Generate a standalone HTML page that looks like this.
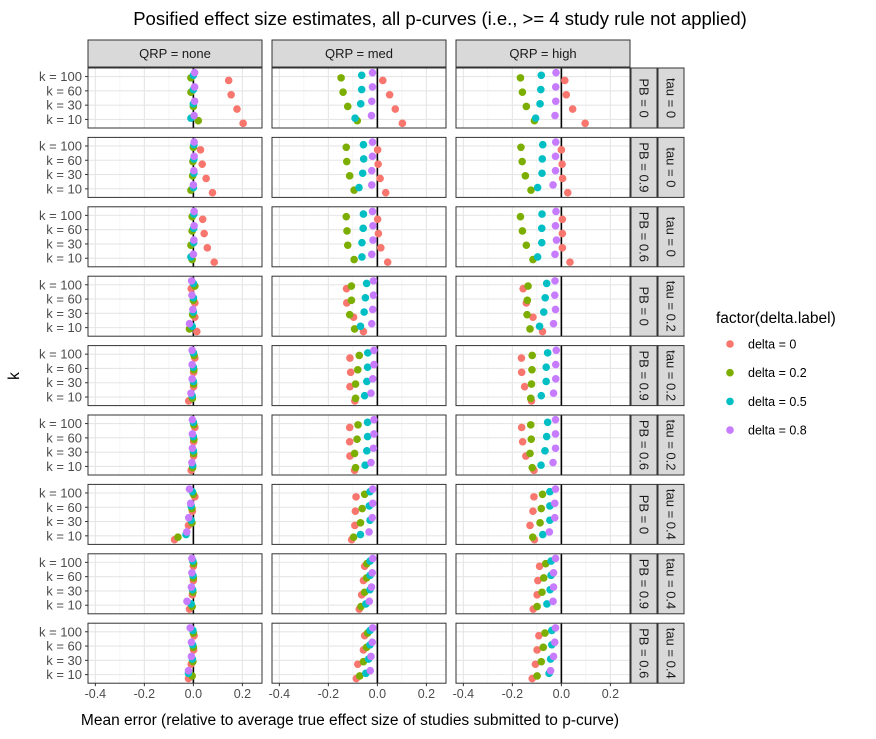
<!DOCTYPE html>
<html><head><meta charset="utf-8"><style>
html,body{margin:0;padding:0;background:#fff;}
svg{display:block;font-family:"Liberation Sans",Arial,sans-serif;}
</style></head><body>
<svg id="chart" width="876" height="739" viewBox="0 0 876 739"></svg>
<script>
const colLabels = ["QRP = none","QRP = med","QRP = high"];
const pbLabels = ["PB = 0","PB = 0.9","PB = 0.6","PB = 0","PB = 0.9","PB = 0.6","PB = 0","PB = 0.9","PB = 0.6"];
const tauLabels = ["tau = 0","tau = 0","tau = 0","tau = 0.2","tau = 0.2","tau = 0.2","tau = 0.4","tau = 0.4","tau = 0.4"];
const kLabels = ["k = 100","k = 60","k = 30","k = 10"];
const deltaLabels = ["delta = 0","delta = 0.2","delta = 0.5","delta = 0.8"];
const xTicks = [-0.4,-0.2,0,0.2];
const xTickLabels = ["-0.4","-0.2","0.0","0.2"];
// values[row][col][delta] = [k100,k60,k30,k10]
const row1 = [
 [[0.144,0.154,0.178,0.203],[-0.01,-0.01,0,0.02],[0,0,0,-0.01],[0.005,0.005,0.005,0.003]],
 [[0.022,0.05,0.073,0.102],[-0.148,-0.14,-0.121,-0.082],[-0.064,-0.064,-0.068,-0.091],[-0.02,-0.02,-0.023,-0.024]],
 [[0.014,0.02,0.046,0.097],[-0.167,-0.159,-0.143,-0.11],[-0.082,-0.084,-0.087,-0.105],[-0.022,-0.023,-0.023,-0.026]]];
const row2 = [
 [[0.029,0.036,0.052,0.078],[0,-0.002,-0.003,-0.01],[0.002,0.002,0.002,0],[0.003,0.003,0.002,0]],
 [[0.001,0.003,0.011,0.034],[-0.127,-0.125,-0.113,-0.095],[-0.057,-0.056,-0.06,-0.075],[-0.02,-0.02,-0.023,-0.023]],
 [[0,0.003,0.005,0.026],[-0.165,-0.16,-0.147,-0.124],[-0.076,-0.078,-0.079,-0.097],[-0.023,-0.024,-0.024,-0.034]]];
const row3 = [
 [[0.038,0.044,0.057,0.085],[-0.005,-0.005,-0.01,-0.005],[0.002,0.001,0.001,-0.01],[0.003,0.003,0.002,0]],
 [[0.001,0.004,0.014,0.042],[-0.127,-0.124,-0.121,-0.095],[-0.057,-0.058,-0.063,-0.063],[-0.02,-0.018,-0.018,-0.023]],
 [[0.004,0.004,0.004,0.035],[-0.167,-0.159,-0.143,-0.116],[-0.079,-0.08,-0.08,-0.097],[-0.022,-0.024,-0.02,-0.026]]];
const row4 = [
 [[-0.009,0.006,0.006,0.014],[0.006,0,-0.003,-0.016],[0,0,0,-0.005],[-0.007,-0.006,-0.002,-0.016]],
 [[-0.126,-0.125,-0.097,-0.057],[-0.106,-0.106,-0.113,-0.093],[-0.044,-0.049,-0.054,-0.069],[-0.016,-0.016,-0.019,-0.023]],
 [[-0.156,-0.143,-0.116,-0.077],[-0.136,-0.139,-0.14,-0.128],[-0.06,-0.066,-0.072,-0.089],[-0.026,-0.027,-0.024,-0.032]]];
const row5 = [
 [[0.006,0.001,0.001,-0.019],[0.003,0.002,0.001,-0.004],[0,0,0,-0.005],[-0.005,-0.005,-0.005,-0.01]],
 [[-0.112,-0.109,-0.112,-0.092],[-0.074,-0.08,-0.089,-0.089],[-0.039,-0.04,-0.043,-0.052],[-0.014,-0.014,-0.019,-0.026]],
 [[-0.163,-0.162,-0.15,-0.122],[-0.119,-0.12,-0.122,-0.125],[-0.056,-0.062,-0.062,-0.082],[-0.021,-0.023,-0.023,-0.032]]];
const row6 = [
 [[0.006,0.001,0.001,-0.009],[0.002,0.002,0.001,-0.003],[0,0,0,-0.003],[-0.004,-0.004,-0.004,-0.006]],
 [[-0.113,-0.113,-0.112,-0.093],[-0.079,-0.083,-0.093,-0.089],[-0.04,-0.04,-0.043,-0.05],[-0.014,-0.014,-0.016,-0.026]],
 [[-0.162,-0.158,-0.145,-0.112],[-0.125,-0.123,-0.128,-0.119],[-0.056,-0.06,-0.067,-0.083],[-0.024,-0.024,-0.024,-0.034]]];
const row7 = [
 [[0.006,-0.004,-0.02,-0.077],[0,-0.006,-0.006,-0.063],[-0.004,-0.009,-0.009,-0.03],[-0.016,-0.011,-0.019,-0.027]],
 [[-0.087,-0.09,-0.092,-0.105],[-0.052,-0.062,-0.069,-0.097],[-0.03,-0.033,-0.03,-0.069],[-0.019,-0.019,-0.021,-0.034]],
 [[-0.112,-0.116,-0.128,-0.11],[-0.077,-0.082,-0.087,-0.117],[-0.047,-0.047,-0.047,-0.076],[-0.024,-0.027,-0.027,-0.049]]];
const row8 = [
 [[0,0,-0.004,-0.016],[0.001,0,-0.002,-0.005],[-0.002,-0.002,-0.003,-0.009],[-0.006,-0.006,-0.008,-0.026]],
 [[-0.052,-0.057,-0.064,-0.074],[-0.043,-0.044,-0.052,-0.067],[-0.03,-0.03,-0.03,-0.047],[-0.019,-0.021,-0.024,-0.033]],
 [[-0.089,-0.096,-0.099,-0.115],[-0.064,-0.072,-0.079,-0.099],[-0.042,-0.042,-0.046,-0.059],[-0.024,-0.032,-0.032,-0.034]]];
const row9 = [
 [[0.003,0.001,-0.009,-0.02],[0,0,-0.002,-0.005],[-0.002,-0.003,-0.004,-0.02],[-0.013,-0.008,-0.008,-0.02]],
 [[-0.052,-0.057,-0.08,-0.086],[-0.04,-0.044,-0.057,-0.072],[-0.03,-0.03,-0.036,-0.047],[-0.019,-0.021,-0.026,-0.029]],
 [[-0.092,-0.099,-0.106,-0.119],[-0.067,-0.074,-0.082,-0.099],[-0.039,-0.039,-0.044,-0.05],[-0.024,-0.027,-0.032,-0.044]]];
const values = [row1,row2,row3,row4,row5,row6,row7,row8,row9];

const colors = ["#F8766D","#7CAE00","#00BFC4","#C77CFF"];
const NS = "http://www.w3.org/2000/svg";
const svg = document.getElementById("chart");
function mk(tag, attrs, parent){
  const e = document.createElementNS(NS, tag);
  for (const a in attrs) e.setAttribute(a, attrs[a]);
  (parent||svg).appendChild(e);
  return e;
}
const panelX0 = [88,272,456], panelW = 174;
const panelY0 = 68, rowStep = 69.4, panelH = 60;
const xMin = -0.43, xMax = 0.28;
const ptR = 3.8;
function xScale(c, v){ return panelX0[c] + (v - xMin)/(xMax - xMin)*panelW; }
function yScale(r, ki){ return panelY0 + r*rowStep + panelH*(0.6 + ki)/4.2; }
const dodge = [3.9,1.3,-1.3,-3.9];

let t = mk("text",{x:440,y:25,"text-anchor":"middle","font-size":"18.5",fill:"#000"});


t.textContent = "Posified effect size estimates, all p-curves (i.e., >= 4 study rule not applied)";

colLabels.forEach((lab,c)=>{
  const g = mk("g",{});
  
  
  mk("rect",{x:panelX0[c],y:40,width:panelW,height:27,fill:"#d9d9d9",stroke:"#333","stroke-width":1},g);
  const tx = mk("text",{x:panelX0[c]+panelW/2,y:58,"text-anchor":"middle","font-size":"13",fill:"#1a1a1a"},g);
  tx.textContent = lab;
});

for (let r=0;r<9;r++){
  const py = panelY0 + r*rowStep;
  [[pbLabels[r],631,'pb-strip-'],[tauLabels[r],658,'tau-strip-']].forEach(([lab,sx,nm],j)=>{
    const g = mk("g",{});
    
    
    const cp = mk("clipPath",{id:"cp"+r+"_"+j},svg);
    mk("rect",{x:sx,y:py,width:26,height:panelH},cp);
    mk("rect",{x:sx,y:py,width:26,height:panelH,fill:"#d9d9d9",stroke:"#333","stroke-width":1},g);
    const tg = mk("g",{"clip-path":"url(#cp"+r+"_"+j+")"},g);
    const tx = mk("text",{x:0,y:0,"text-anchor":"middle","font-size":"13",fill:"#1a1a1a",transform:"translate("+(sx+8.5)+","+(py+panelH/2)+") rotate(90)"},tg);
    tx.textContent = lab;
  });
  kLabels.forEach((kl,ki)=>{
    const y = yScale(r,ki);
    const tx = mk("text",{x:82,y:y+4.5,"text-anchor":"end","font-size":"13",fill:"#4d4d4d"});
    
    
    tx.textContent = kl;
    mk("line",{x1:85,x2:88,y1:y,y2:y,stroke:"#333","stroke-width":1});
  });
  for (let c=0;c<3;c++){
    const g = mk("g",{});
    
    
    mk("rect",{x:panelX0[c],y:py,width:panelW,height:panelH,fill:"#fff"},g);
    [-0.3,-0.1,0.1].forEach(v=>{const x=xScale(c,v);mk("line",{x1:x,x2:x,y1:py,y2:py+panelH,stroke:"#f0f0f0","stroke-width":0.6},g);});
    xTicks.forEach(v=>{const x=xScale(c,v);mk("line",{x1:x,x2:x,y1:py,y2:py+panelH,stroke:"#e6e6e6","stroke-width":1.1},g);});
    kLabels.forEach((kl,ki)=>{const y=yScale(r,ki);mk("line",{x1:panelX0[c],x2:panelX0[c]+panelW,y1:y,y2:y,stroke:"#e6e6e6","stroke-width":1.1},g);});
    const x0 = xScale(c,0);
    mk("line",{x1:x0,x2:x0,y1:py,y2:py+panelH,stroke:"#000","stroke-width":1.6},g);
    for (let d=0; d<4; d++){
      for (let ki=0; ki<4; ki++){
        const pt = mk("circle",{cx:xScale(c,values[r][c][d][ki]),cy:yScale(r,ki)+dodge[d],r:ptR,fill:colors[d]},g);
        
        
      }
    }
    mk("rect",{x:panelX0[c],y:py,width:panelW,height:panelH,fill:"none",stroke:"#333","stroke-width":1},g);
  }
}
const bottom = panelY0 + 8*rowStep + panelH;
for (let c=0;c<3;c++){
  xTicks.forEach((v,i)=>{
    const x = xScale(c,v);
    mk("line",{x1:x,x2:x,y1:bottom,y2:bottom+3,stroke:"#333","stroke-width":1});
    const tx = mk("text",{x:x,y:bottom+15,"text-anchor":"middle","font-size":"12.5",fill:"#4d4d4d"});
    
    
    tx.textContent = xTickLabels[i];
  });
}
t = mk("text",{x:350,y:725,"text-anchor":"middle","font-size":"15.5",fill:"#000"});


t.textContent = "Mean error (relative to average true effect size of studies submitted to p-curve)";
t = mk("text",{x:0,y:0,"text-anchor":"middle","font-size":"15.5",fill:"#000",transform:"translate(19,376) rotate(-90)"});


t.textContent = "k";
t = mk("text",{x:716,y:323,"font-size":"15.5",fill:"#000"});


t.textContent = "factor(delta.label)";
deltaLabels.forEach((lab,i)=>{
  const g = mk("g",{});
  
  
  const y = 344 + i*28.7;
  mk("circle",{cx:730,cy:y,r:ptR,fill:colors[i]},g);
  const tx = mk("text",{x:748,y:y+4.5,"font-size":"12.5",fill:"#000"},g);
  tx.textContent = lab;
});
</script>
</body></html>
